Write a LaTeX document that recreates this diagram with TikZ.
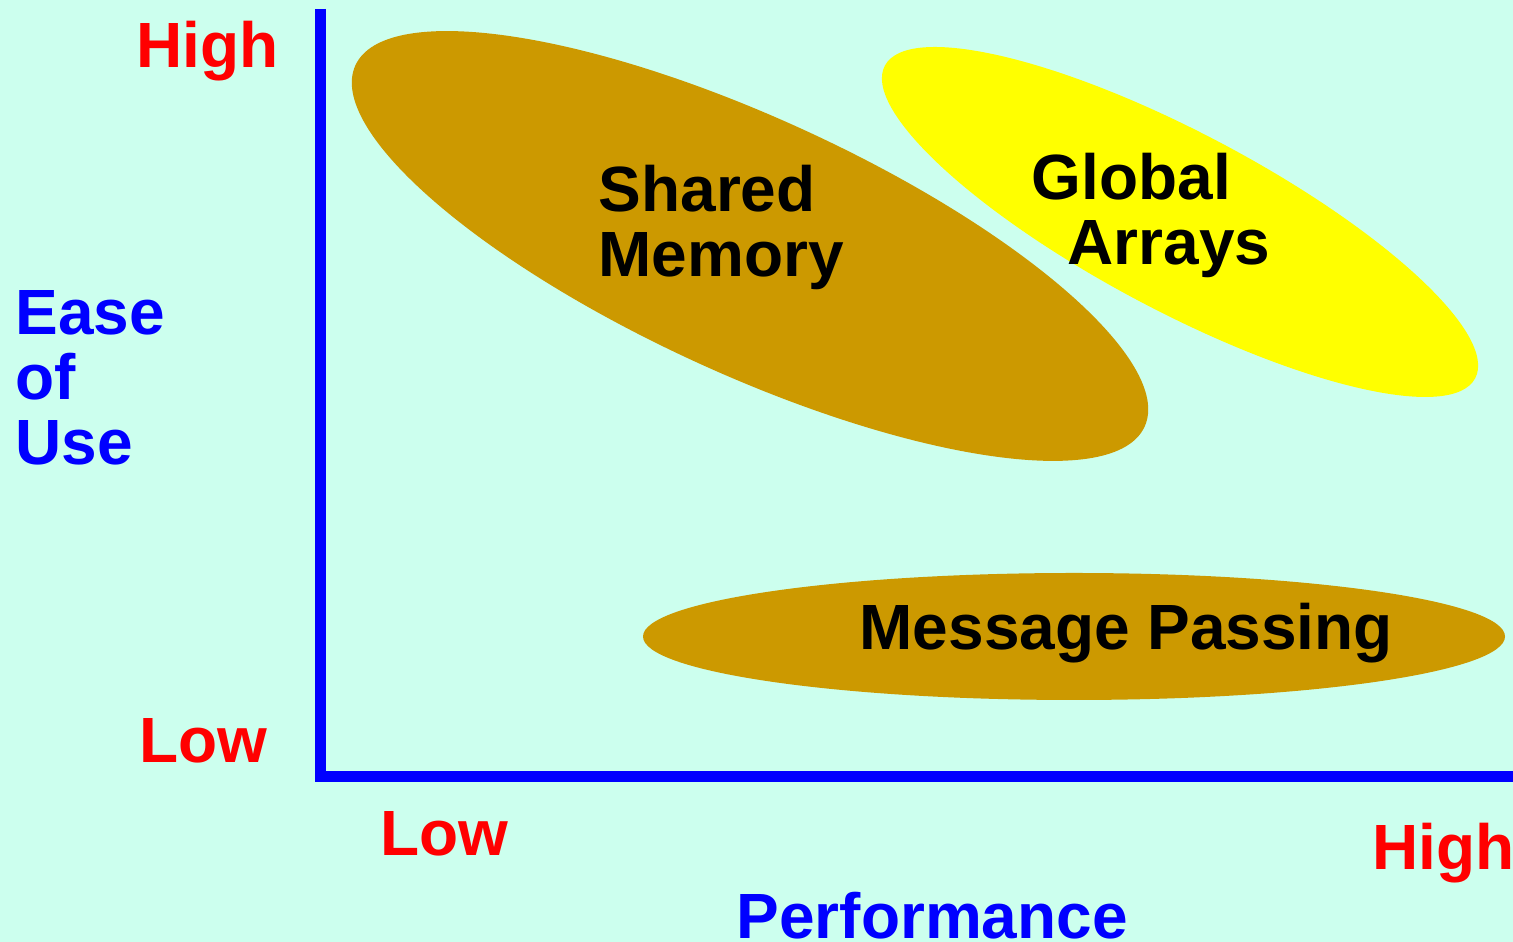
\documentclass[tikz,border=0pt]{standalone}
\usepackage{fontspec}
\setmainfont{Liberation Sans}
\definecolor{bgcyan}{RGB}{204,255,238}
\definecolor{ochre}{RGB}{204,153,0}
\definecolor{brightyellow}{RGB}{255,255,0}
\tikzset{
	bigtext/.style={inner sep=0pt, align=left, font=\fontsize{18.2}{18.6}\selectfont\bfseries},
	levellbl/.style={bigtext, text=red},
	axislbl/.style={bigtext, text=blue},
	blobtxt/.style={bigtext, text=black},
}
\begin{document}
\begin{tikzpicture}
		\fill[bgcyan] (0,0) rectangle (15.13,9.42);
		\useasboundingbox (0,0) rectangle (15.13,9.42);
		% blobs
		\fill[ochre, rotate around={-24.6:(7.50,6.96)}] (7.50,6.96) ellipse (4.34 and 1.28);
		\fill[brightyellow, rotate around={-27.9:(11.80,7.20)}] (11.80,7.20) ellipse (3.34 and 0.89);
		\fill[ochre] (10.74,3.055) ellipse (4.31 and 0.635);
		% axes
		\draw[blue, line width=0.11cm] (3.205,9.33) -- (3.205,1.655) -- (15.2,1.655);
		% labels (base of the last line)
		\node[levellbl, anchor=base west] (hiy) at (1.36,8.74) {High};
		\node[levellbl, anchor=base west] (loy) at (1.39,1.79) {Low};
		\node[levellbl, anchor=base west] (lox) at (3.80,0.86) {Low};
		\node[levellbl, anchor=base west] (hix) at (13.72,0.72) {High};
		\node[axislbl, anchor=base west] (ease) at (0.15,4.77) {Ease\\of\\Use};
		\node[axislbl, anchor=base west] (perf) at (7.36,0.03) {Performance};
		\node[blobtxt, anchor=base west] (shm) at (5.98,6.65) {Shared\\Memory};
		\node[blobtxt, anchor=base west] (ga) at (10.31,6.77) {Global\\\hspace{0.36cm}Arrays};
		\node[blobtxt, anchor=base west] (mp) at (8.59,2.92) {Message Passing};
\end{tikzpicture}
\end{document}
